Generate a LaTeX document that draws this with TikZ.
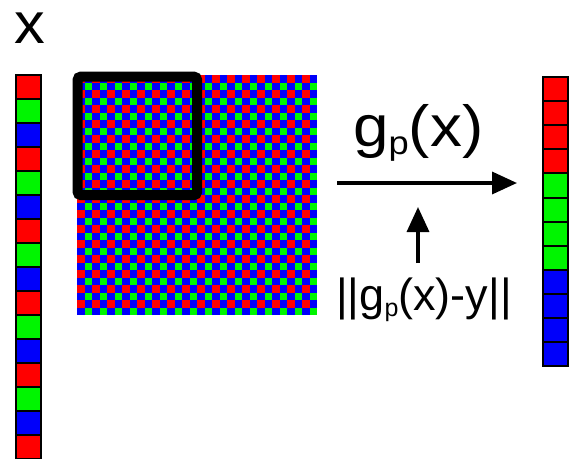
\documentclass[tikz,border=0pt]{standalone}
\usepackage{fontspec}
\setmainfont{Liberation Sans}
\usetikzlibrary{arrows.meta}
\definecolor{pr}{RGB}{255,0,0}
\definecolor{pg}{RGB}{0,245,0}
\definecolor{pb}{RGB}{0,0,250}
\tikzset{
  cell/.style={draw=black, line width=2pt},
  bigarrow/.style={line width=3.5pt, -{Triangle[length=25pt,width=22pt]}},
  lbl/.style={inner sep=0pt, anchor=base west, text=black}
}
\begin{document}
\begin{tikzpicture}[x=1pt,y=-1pt]
\useasboundingbox (0,0) rectangle (570,458);
\fill[white] (0,0) rectangle (570,458);
% input vector x
\foreach \k in {0,...,15} {
  \pgfmathtruncatemacro{\m}{mod(\k,3)}
  \ifcase\m \def\cc{pr}\or \def\cc{pg}\or \def\cc{pb}\fi
  \filldraw[cell, fill=\cc] (16,{75+24*\k}) rectangle +(25,24);
}
% mosaic: 32x32 colour filter pattern
\fill[pb] (77,75) rectangle (317,315);
\foreach \i in {0,2,...,30} {
  \foreach \j in {0,2,...,30} {
    \fill[pr] ({77+7.5*\j},{75+7.5*\i}) rectangle +(7.5,7.5);
    \fill[pg] ({84.5+7.5*\j},{82.5+7.5*\i}) rectangle +(7.5,7.5);
  }
}
% patch window
\draw[line width=10pt, rounded corners=3pt] (77.7,76.7) rectangle (197,195);
% output vector
\foreach \k in {0,...,11} {
  \pgfmathtruncatemacro{\m}{int(\k/4)}
  \ifcase\m \def\cc{pr}\or \def\cc{pg}\or \def\cc{pb}\fi
  \filldraw[cell, fill=\cc] (543,{77+24.1*\k}) rectangle +(25,24.1);
}
% labels
\node[lbl, font=\fontsize{58}{60}\selectfont] (xlab) at (14,43) {\scalebox{1.06}[1]{x}};
\node[lbl, font=\fontsize{58}{60}\selectfont] (glab) at (353,146)
  {\scalebox{1.1}[1]{g\lower8pt\hbox{\fontsize{33}{33}\selectfont p}(x)}};
\node[lbl, font=\fontsize{45}{48}\selectfont] (loss) at (336,310)
  {||g\lower6pt\hbox{\fontsize{25}{25}\selectfont p}(x)-y||};
% arrows
\coordinate (h1) at (337,183);
\coordinate (h2) at (517,183);
\coordinate (v1) at (418,263);
\coordinate (v2) at (418,207);
\draw[bigarrow] (h1) -- (h2);
\draw[bigarrow] (v1) -- (v2);
\end{tikzpicture}
\end{document}
